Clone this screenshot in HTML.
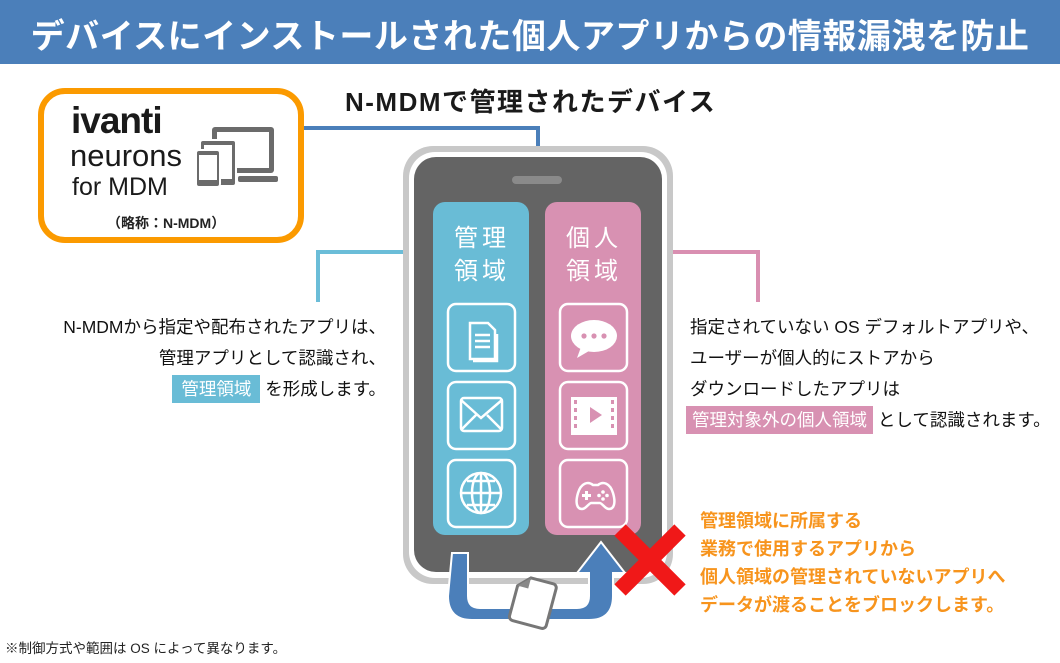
<!DOCTYPE html>
<html><head><meta charset="utf-8"><style>
body{margin:0;width:1060px;height:663px;overflow:hidden;background:#fff;font-family:"Liberation Sans","Noto Sans CJK JP",sans-serif;position:relative}
.t{position:absolute;white-space:nowrap}
</style></head><body>
<div style="position:absolute;left:0;top:0;width:1060px;height:64px;background:#4b7fba"></div>
<div class="t" style="left:0;width:1060px;text-align:center;top:9px;font-size:34px;font-weight:bold;color:#fff;letter-spacing:0.5px">デバイスにインストールされた個人アプリからの情報漏洩を防止</div>
<svg width="1060" height="663" style="position:absolute;left:0;top:0">
<rect x="41" y="91" width="260" height="149" rx="24" fill="#fff" stroke="#fb9a00" stroke-width="6"/>
<polyline points="304,128 538,128 538,146" fill="none" stroke="#4b7fba" stroke-width="4"/>
<polyline points="433,252 318,252 318,302" fill="none" stroke="#6bbdd8" stroke-width="4"/>
<polyline points="641,252 758,252 758,302" fill="none" stroke="#d98fb1" stroke-width="4"/>
<g fill="#6b6b6b">
<rect x="212" y="127" width="62" height="46" rx="3"/>
<rect x="238" y="176" width="40" height="6" rx="2"/>
<rect x="217" y="132" width="52" height="36" fill="#fff"/>
<rect x="200" y="140" width="36" height="46" rx="3" stroke="#fff" stroke-width="2"/>
<rect x="204" y="145" width="28" height="34" fill="#fff"/>
<rect x="196" y="150" width="24" height="37" rx="3" stroke="#fff" stroke-width="2"/>
<rect x="199" y="155" width="18" height="25" fill="#fff"/>
</g>
<rect x="403" y="146" width="270" height="438" rx="30" fill="#c8c8c8"/>
<rect x="409" y="152" width="258" height="426" rx="26" fill="#fff"/>
<rect x="414" y="157" width="248" height="415" rx="22" fill="#646464"/>
<rect x="512" y="176" width="50" height="8" rx="4" fill="#8a8a8a"/>
<rect x="433" y="202" width="96" height="333" rx="12" fill="#69bcd6"/>
<rect x="545" y="202" width="96" height="333" rx="12" fill="#d891b2"/>
<g fill="none" stroke="#fff" stroke-width="2.5">
<rect x="448" y="304" width="67" height="67" rx="8"/>
<rect x="448" y="382" width="67" height="67" rx="8"/>
<rect x="448" y="460" width="67" height="67" rx="8"/>
<rect x="560" y="304" width="67" height="67" rx="8"/>
<rect x="560" y="382" width="67" height="67" rx="8"/>
<rect x="560" y="460" width="67" height="67" rx="8"/>
<path d="M470 323h18l7 7v29h-25z M475 335h15 M475 341h15 M475 347h15 M497 334v27h-24"/>
<rect x="461" y="398" width="41" height="33" rx="3"/><path d="M461 400l20 18l21-18 M461 430l15-15 M502 430l-15-15"/>
<circle cx="481" cy="493" r="20"/><path d="M461 493h40 M481 473v40 M467 481h28 M467 505h28"/><ellipse cx="481" cy="493" rx="9" ry="20"/>
<path d="M578 493c3-10 10-12 15-8h5c5-4 12-2 15 8c3 10 1 16-4 16c-4 0-6-5-9-6h-9c-3 1-5 6-9 6c-5 0-7-6-4-16z"/>
</g>
<g fill="#fff"><ellipse cx="594" cy="336" rx="23" ry="16"/><path d="M581 347l-4 11l12-7z"/>
<rect x="571" y="397" width="46" height="38"/></g>
<g fill="#d891b2"><circle cx="584" cy="336" r="2.6"/><circle cx="594" cy="336" r="2.6"/><circle cx="604" cy="336" r="2.6"/>
<rect x="574" y="400" width="3" height="4"/><rect x="574" y="408" width="3" height="4"/><rect x="574" y="416" width="3" height="4"/><rect x="574" y="424" width="3" height="4"/>
<rect x="611" y="400" width="3" height="4"/><rect x="611" y="408" width="3" height="4"/><rect x="611" y="416" width="3" height="4"/><rect x="611" y="424" width="3" height="4"/>
<path d="M590 407v16l12-8z"/></g>
<g fill="#fff"><rect x="582" y="494" width="9" height="3"/><rect x="585" y="491" width="3" height="9"/><circle cx="603" cy="492" r="1.8"/><circle cx="603" cy="499" r="1.8"/><circle cx="599" cy="495.5" r="1.8"/><circle cx="607" cy="495.5" r="1.8"/></g>
<path d="M452 553h16v43q0 12 12 12h97q12 0 12-12v-23h-12l24-31l24 31h-12v23q0 24-24 24h-117q-24 0-24-24z" fill="#4b7fba" stroke="#fff" stroke-width="2"/>
<g transform="rotate(15 536 602)"><path d="M525 580h23a4 4 0 0 1 4 4v38a4 4 0 0 1-4 4h-30a4 4 0 0 1-4-4v-31z" fill="#fff" stroke="#777" stroke-width="3"/><path d="M514 591h11v-11z" fill="#888"/></g>
<path d="M620 530l60 60M680 530l-60 60" stroke="#f01818" stroke-width="16"/>
</svg>
<div class="t" style="left:71px;top:102px;font-size:37px;font-weight:bold;color:#1a1a1a;letter-spacing:-1px;line-height:37px">ivanti</div>
<div class="t" style="left:70px;top:140px;font-size:31px;color:#1a1a1a;line-height:32px">neurons</div>
<div class="t" style="left:72px;top:173px;font-size:25px;color:#1a1a1a;line-height:28px">for MDM</div>
<div class="t" style="left:107px;top:213px;font-size:14px;font-weight:bold;color:#222">（略称：N-MDM）</div>
<div class="t" style="left:345px;top:82px;font-size:26px;font-weight:bold;color:#1a1a1a;letter-spacing:1.5px">N-MDMで管理されたデバイス</div>
<div class="t" style="left:454px;top:222px;font-size:24px;color:#fff;line-height:33px;letter-spacing:4px">管理<br>領域</div>
<div class="t" style="left:566px;top:222px;font-size:24px;color:#fff;line-height:33px;letter-spacing:4px">個人<br>領域</div>
<div class="t" style="right:674px;top:312px;font-size:17.5px;color:#111;text-align:right;line-height:31px">N-MDMから指定や配布されたアプリは、<br>管理アプリとして認識され、<br><span style="background:#69bcd6;color:#fff;padding:4px 9px">管理領域</span> を形成します。</div>
<div class="t" style="left:690px;top:312px;font-size:17.5px;color:#111;line-height:31px">指定されていない OS デフォルトアプリや、<br>ユーザーが個人的にストアから<br>ダウンロードしたアプリは<br><span style="background:#d891b2;color:#fff;padding:4px 6px;margin-left:-4px">管理対象外の個人領域</span> として認識されます。</div>
<div class="t" style="left:700px;top:507px;font-size:18px;font-weight:bold;color:#f7941d;line-height:28px">管理領域に所属する<br>業務で使用するアプリから<br>個人領域の管理されていないアプリへ<br>データが渡ることをブロックします。</div>
<div class="t" style="left:5px;top:637px;font-size:13.5px;color:#222">※制御方式や範囲は OS によって異なります。</div>
</body></html>
